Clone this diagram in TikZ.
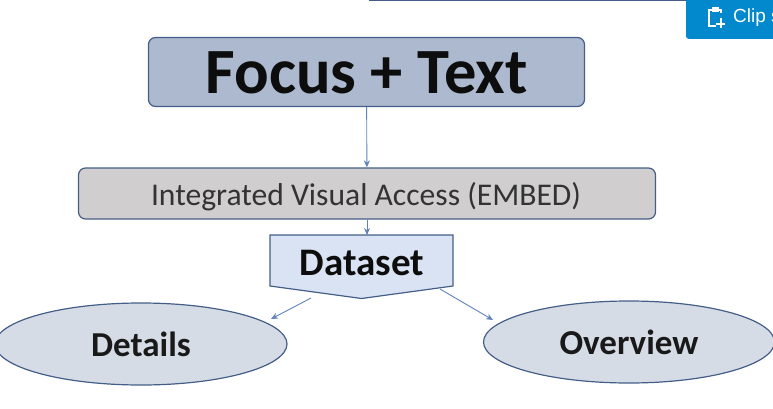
\documentclass[tikz,border=0pt]{standalone}
\usepackage{fontspec}
\setmainfont{Carlito}
\newfontfamily\clipfont{Liberation Sans}
\usetikzlibrary{arrows.meta,shapes.geometric,positioning}
\definecolor{edgeblue}{RGB}{68,94,135}
\definecolor{linkblue}{RGB}{95,130,190}
\definecolor{ovalfill}{RGB}{214,220,230}
\definecolor{datafill}{RGB}{218,227,243}
\tikzset{
	boxr/.style={draw=edgeblue, rounded corners=7pt, line width=1.2pt, inner sep=0pt},
	oval/.style={draw=edgeblue, ellipse, line width=1.2pt, fill=ovalfill, inner sep=0pt, font=\bfseries\fontsize{35pt}{35pt}\selectfont, text=black!90},
	link/.style={draw=linkblue, line width=0.9pt, -{Stealth[length=7pt,width=6pt]}},
}
\begin{document}
\begin{tikzpicture}[x=1pt,y=-1pt]
	\useasboundingbox (0,0) rectangle (773,409);

	% top edge and clip button
	\coordinate (topa) at (369,0.5);
	\coordinate (topb) at (690,0.5);
	\draw[edgeblue, line width=1.2pt] (topa) -- (topb);
	\fill[rounded corners=3pt, fill={rgb,255:red,2;green,136;blue,204}] (686,-5) rectangle (790,39);
	\node[text=white, anchor=west, inner sep=0pt, font=\clipfont\fontsize{19pt}{19pt}\selectfont] (clip) at (733,18) {Clip s};
	\begin{scope}[white, line width=2pt]
		\draw (721,13) -- (721,10) -- (709,10) -- (709,26) -- (716,26);
		\draw[fill=white] (712.5,8) rectangle (718,11);
		\draw (721,18) -- (721,28) (716,24) -- (725,24);
	\end{scope}

	\node[boxr, fill={rgb,255:red,173;green,185;blue,206}, minimum width=436pt, minimum height=69pt] (focus) at (366.5,72) {};
	\node[font=\bfseries\fontsize{64.5pt}{64.5pt}\selectfont, text=black!95] (focustext) at (366.5,73) {Focus + Text};
	\node[boxr, fill={rgb,255:red,208;green,206;blue,206}, minimum width=577pt, minimum height=51pt] (access) at (367,193.5) {};
	\node[font=\fontsize{31.6pt}{31.6pt}\selectfont, text=black!80] (accesstext) at (366,197) {Integrated Visual Access (EMBED)};

	\coordinate (dsa) at (270,235);
	\coordinate (dsb) at (453,235);
	\coordinate (dsc) at (453,286);
	\coordinate (dsd) at (361.5,298.5);
	\coordinate (dse) at (270,286);
	\draw[edgeblue, line width=1.2pt, fill=datafill] (dsa) -- (dsb) -- (dsc) -- (dsd) -- (dse) -- cycle;
	\node[font=\bfseries\fontsize{39pt}{39pt}\selectfont, text=black!95] (data) at (362,263) {Dataset};

	\node[oval, minimum width=292pt, minimum height=82pt] (details) at (141,344) {Details};
	\node[oval, minimum width=291pt, minimum height=82pt] (overview) at (629,342) {Overview};

	\draw[link] (focus) -- (access);
	\draw[link] (access) -- (access.south |- dsa);
	\coordinate (lefta) at (311,298);
	\coordinate (righta) at (440,289);
	\draw[link] (lefta) -- (271,319);
	\draw[link] (righta) -- (493,320);
\end{tikzpicture}
\end{document}
